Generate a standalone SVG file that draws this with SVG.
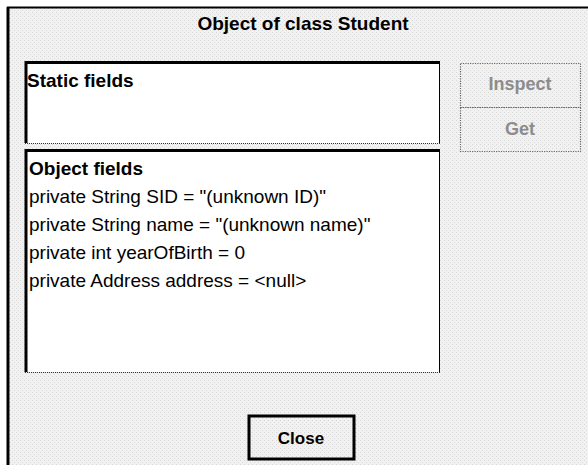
<svg xmlns="http://www.w3.org/2000/svg" width="588" height="465" viewBox="0 0 588 465">
  <defs>
    <pattern id="dither" width="4" height="4" patternUnits="userSpaceOnUse">
      <rect width="4" height="4" fill="#f1f1f1"/>
      <rect x="0" y="0" width="1" height="1" fill="#d6d6d6"/>
      <rect x="2" y="2" width="1" height="1" fill="#dcdcdc"/>
    </pattern>
  </defs>
  <style>
    .t { font-family: "Liberation Sans", Arial, sans-serif; font-size: 19px; fill: #000; }
    .b { font-weight: bold; }
    .dis { font-family: "Liberation Sans", Arial, sans-serif; font-size: 18px; font-weight: bold; fill: #8c8c8c; }
    .panel { fill: #ffffff; }
    .thick { stroke: #000; stroke-width: 3; fill: none; }
    .thin { stroke: #000; stroke-width: 1; fill: none; }
    .dot { stroke: #333; stroke-width: 1; stroke-dasharray: 1 1; fill: none; }
    .btn { fill: none; stroke: #666; stroke-width: 1.2; stroke-dasharray: 1.2 1.2; }
  </style>
  <rect width="588" height="465" fill="#ffffff"/>
  <g id="window">
    <rect x="8" y="8" width="580" height="457" fill="url(#dither)"/>
    <line x1="7" y1="7.5" x2="588" y2="7.5" stroke="#000" stroke-width="2"/>
    <line x1="8" y1="7" x2="8" y2="465" stroke="#000" stroke-width="3"/>
    <text class="t b" x="303" y="30" text-anchor="middle">Object of class Student</text>
  </g>
  <g id="static-fields">
    <rect class="panel" x="25" y="62" width="414" height="81"/>
    <line class="thick" x1="25" y1="62.5" x2="440" y2="62.5"/>
    <line class="thick" x1="26" y1="61" x2="26" y2="143"/>
    <line class="thin" x1="439.5" y1="62" x2="439.5" y2="143"/>
    <line class="dot" x1="25" y1="143.5" x2="440" y2="143.5"/>
    <text class="t b" x="27" y="87">Static fields</text>
  </g>
  <g id="object-fields">
    <rect class="panel" x="25" y="150" width="414" height="222"/>
    <line class="thick" x1="25" y1="150.5" x2="440" y2="150.5"/>
    <line class="thick" x1="26" y1="149" x2="26" y2="372"/>
    <line class="thin" x1="439.5" y1="150" x2="439.5" y2="372"/>
    <line class="dot" x1="25" y1="372.5" x2="440" y2="372.5"/>
    <text class="t b" x="29" y="175">Object fields</text>
    <text class="t" x="29" y="203">private String SID = "(unknown ID)"</text>
    <text class="t" x="29" y="231">private String name = "(unknown name)"</text>
    <text class="t" x="29" y="259">private int yearOfBirth = 0</text>
    <text class="t" x="29" y="287">private Address address = &lt;null&gt;</text>
  </g>
  <g id="inspect-button">
    <rect class="btn" x="460.5" y="63.5" width="120" height="44"/>
    <text class="dis" x="520" y="90" text-anchor="middle">Inspect</text>
  </g>
  <g id="get-button">
    <rect class="btn" x="460.5" y="107.5" width="120" height="44"/>
    <text class="dis" x="520" y="135" text-anchor="middle">Get</text>
  </g>
  <g id="close-button">
    <rect x="249" y="416" width="105" height="43" fill="none" stroke="#000" stroke-width="3"/>
    <text class="t b" x="301" y="444" text-anchor="middle" style="font-size:17px">Close</text>
  </g>
  <g id="connectors"/>
</svg>
